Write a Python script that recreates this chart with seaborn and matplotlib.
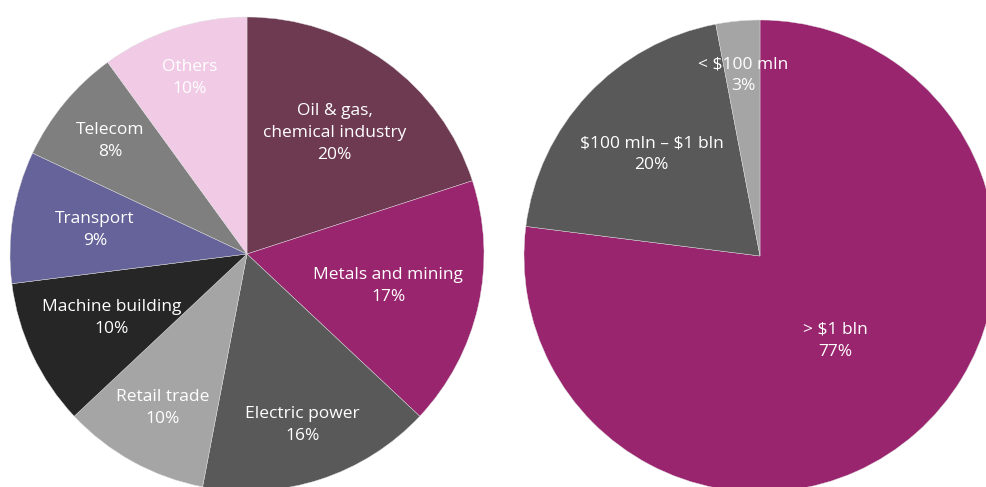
import numpy as np
import matplotlib
matplotlib.use("Agg")
import matplotlib.pyplot as plt
import seaborn as sns

# --- data ---
sectors = ["Oil & gas,\nchemical industry", "Metals and mining", "Electric power",
           "Retail trade", "Machine building", "Transport", "Telecom", "Others"]
sector_share = [20, 17, 16, 10, 10, 9, 8, 10]
sector_colors = ["#6e3a52", "#99256f", "#595959", "#a5a5a5",
                 "#262626", "#65639a", "#7f7f7f", "#f1cbe6"]

sizes = ["> $1 bln", "$100 mln \u2013 $1 bln", "< $100 mln"]
size_share = [77, 20, 3]
size_colors = ["#99256f", "#595959", "#a5a5a5"]

# radial position of each label (fraction of radius)
sector_dist = [0.63, 0.61, 0.76, 0.74, 0.63, 0.65, 0.75, 0.78]
size_dist = [0.48, 0.63, 0.77]

sns.set_theme(style="white")
plt.rcParams["font.family"] = ["Open Sans", "DejaVu Sans"]

W, H = 986, 487
fig = plt.figure(figsize=(W / 100, H / 100), dpi=100)


def pie_axes(cx, cy, r):
    # pixel centre / radius -> figure fraction axes
    return fig.add_axes([(cx - r) / W, (H - cy - r) / H, 2 * r / W, 2 * r / H])


def draw_pie(ax, labels, values, colors, dists):
    wedges, _ = ax.pie(values, colors=sns.color_palette(colors), startangle=90,
                       counterclock=False, radius=1,
                       wedgeprops=dict(edgecolor="#e0e0e0", linewidth=0.3))
    for w, lab, v, d in zip(wedges, labels, values, dists):
        ang = np.deg2rad((w.theta1 + w.theta2) / 2)
        ax.text(d * np.cos(ang), d * np.sin(ang), f"{lab}\n{v}%",
                ha="center", va="center", color="white", fontsize=12.5,
                linespacing=1.5, parse_math=False)
    ax.set_xlim(-1, 1)
    ax.set_ylim(-1, 1)
    ax.set_aspect("equal")
    ax.axis("off")


ax1 = pie_axes(247, 254, 237)
draw_pie(ax1, sectors, sector_share, sector_colors, sector_dist)

ax2 = pie_axes(760, 256, 236)
draw_pie(ax2, sizes, size_share, size_colors, size_dist)

fig.savefig("out.png", dpi=100)
